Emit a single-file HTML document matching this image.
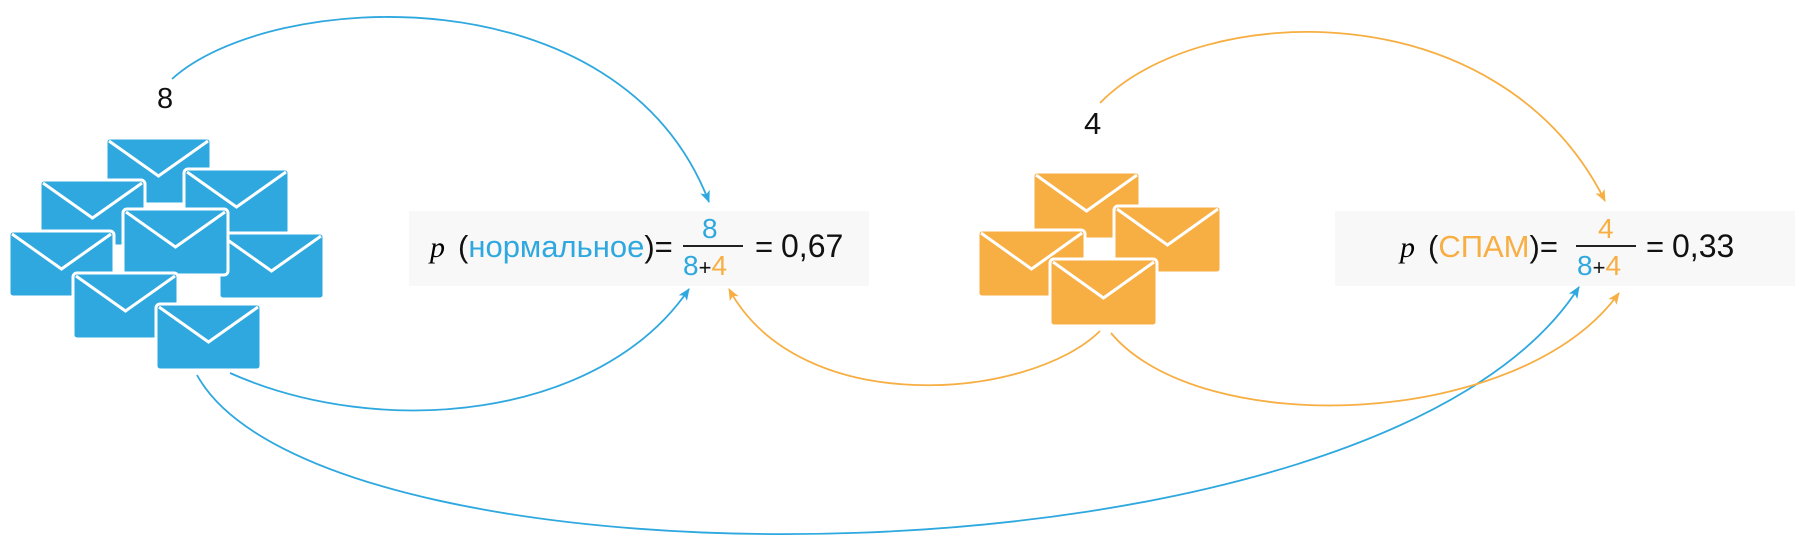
<!DOCTYPE html>
<html><head><meta charset="utf-8"><style>
html,body{margin:0;padding:0;background:#fff;width:1800px;height:550px;overflow:hidden}
svg text{font-family:"Liberation Sans",sans-serif}
</style></head><body>
<svg width="1800" height="550" viewBox="0 0 1800 550" xmlns="http://www.w3.org/2000/svg">
<defs>
<marker id="ab" viewBox="0 0 12 10" refX="11" refY="5" markerWidth="12" markerHeight="10" markerUnits="userSpaceOnUse" orient="auto"><path d="M0,0 L12,5 L0,10 L3,5 Z" fill="#2ea8df"/></marker>
<marker id="ao" viewBox="0 0 12 10" refX="11" refY="5" markerWidth="12" markerHeight="10" markerUnits="userSpaceOnUse" orient="auto"><path d="M0,0 L12,5 L0,10 L3,5 Z" fill="#f7ae42"/></marker>
<g id="envb"><rect x="0" y="0" width="105" height="66" rx="4" fill="#2ea8df" stroke="#fff" stroke-width="3"/><polyline points="3,3 52.5,38 102,3" fill="none" stroke="#fff" stroke-width="3"/></g>
<g id="envo"><rect x="0" y="0" width="107" height="67" rx="4" fill="#f7ae42" stroke="#fff" stroke-width="3"/><polyline points="3,3 53.5,39 104,3" fill="none" stroke="#fff" stroke-width="3"/></g>
</defs>

<rect x="409" y="211" width="460" height="75" fill="#f8f8f8"/>
<rect x="1335" y="211" width="460" height="75" fill="#f8f8f8"/>

<g fill="none" stroke-width="1.8">
<path d="M172,79 C270,-10 620,-30 709,202" stroke="#2ea8df" marker-end="url(#ab)"/>
<path d="M230,373 C380,440 600,420 689,289" stroke="#2ea8df" marker-end="url(#ab)"/>
<path d="M197,375 C320,600 1380,600 1579,287" stroke="#2ea8df" marker-end="url(#ab)"/>
<path d="M1100,331 C1030,400 800,420 729,289" stroke="#f7ae42" marker-end="url(#ao)"/>
<path d="M1111,333 C1200,440 1520,430 1619,293" stroke="#f7ae42" marker-end="url(#ao)"/>
<path d="M1100,103 C1200,0 1500,-10 1605,201" stroke="#f7ae42" marker-end="url(#ao)"/>
</g>

<use href="#envb" x="106" y="138"/>
<use href="#envb" x="40" y="180"/>
<use href="#envb" x="184" y="169"/>
<use href="#envb" x="219" y="233"/>
<use href="#envb" x="9" y="231"/>
<use href="#envb" x="123" y="209"/>
<use href="#envb" x="73" y="273"/>
<use href="#envb" x="156" y="304"/>

<use href="#envo" x="1033" y="172"/>
<use href="#envo" x="1114" y="206"/>
<use href="#envo" x="978" y="230"/>
<use href="#envo" x="1050" y="259"/>

<text x="157" y="108" font-size="29" fill="#111">8</text>
<text x="1084" y="134" font-size="31" fill="#111">4</text>

<text x="430" y="257" font-size="30" font-style="italic" style="font-family:'Liberation Serif',serif">p</text>
<text x="458" y="257" font-size="31" fill="#111">(<tspan fill="#2ea8df">нормальное</tspan>)=</text>
<text x="702" y="238" font-size="28" fill="#2ea8df">8</text>
<line x1="683" y1="246" x2="743" y2="246" stroke="#222" stroke-width="2"/>
<text x="683" y="275" font-size="28" fill="#2ea8df">8<tspan fill="#111" font-size="22">+</tspan><tspan fill="#f7ae42">4</tspan></text>
<text x="755" y="257" font-size="31" fill="#111">=</text>
<text x="781" y="257" font-size="32" fill="#111">0,67</text>

<text x="1400" y="257" font-size="30" font-style="italic" style="font-family:'Liberation Serif',serif">p</text>
<text x="1428" y="257" font-size="31" fill="#111">(<tspan fill="#f7ae42">СПАМ</tspan>)=</text>
<text x="1598" y="238" font-size="28" fill="#f7ae42">4</text>
<line x1="1576" y1="246" x2="1636" y2="246" stroke="#222" stroke-width="2"/>
<text x="1577" y="275" font-size="28" fill="#2ea8df">8<tspan fill="#111" font-size="22">+</tspan><tspan fill="#f7ae42">4</tspan></text>
<text x="1646" y="257" font-size="31" fill="#111">=</text>
<text x="1672" y="257" font-size="32" fill="#111">0,33</text>
</svg>
</body></html>
